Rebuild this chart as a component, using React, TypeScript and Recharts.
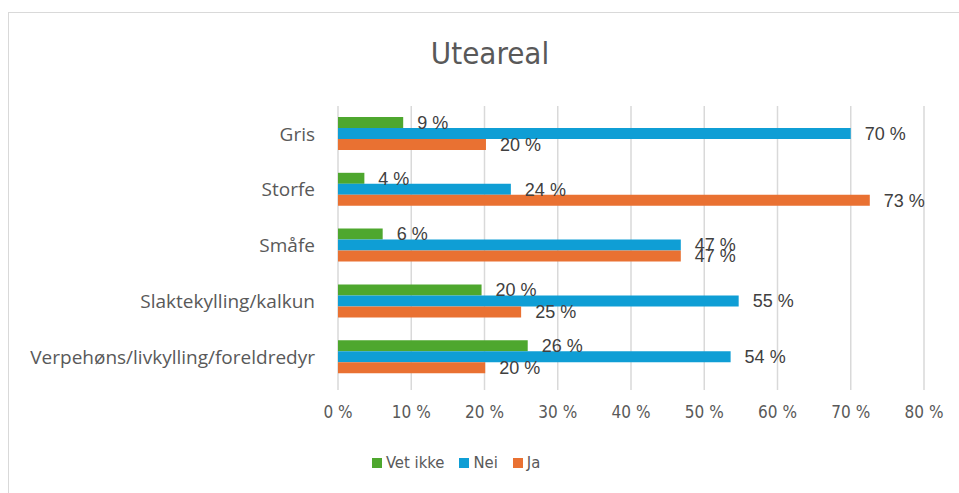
import { BarChart, Bar, XAxis, YAxis, CartesianGrid, LabelList } from "recharts";

const categories = [
  "Gris",
  "Storfe",
  "Småfe",
  "Slaktekylling/kalkun",
  "Verpehøns/livkylling/foreldredyr",
];
const vetIkke = [8.9, 3.6, 6.1, 19.6, 25.9];
const nei = [70.0, 23.6, 46.8, 54.7, 53.6];
const ja = [20.2, 72.6, 46.8, 25.0, 20.1];
const xTicks = [0, 10, 20, 30, 40, 50, 60, 70, 80];

const series = [
  { key: "vetIkke", name: "Vet ikke", color: "#4ea72e" },
  { key: "nei", name: "Nei", color: "#0f9ed5" },
  { key: "ja", name: "Ja", color: "#e97132" },
];

const data = categories.map((c, i) => ({
  category: c,
  vetIkke: vetIkke[i],
  nei: nei[i],
  ja: ja[i],
}));

const narrow = "'Liberation Sans Narrow', 'DejaVu Sans Condensed', sans-serif";
const pct = (v: unknown) => `${Math.round(Number(v))} %`;

function LegendBox() {
  return (
    <div
      style={{
        position: "absolute",
        left: 372,
        top: 453,
        display: "flex",
        gap: 15,
        fontFamily: narrow,
        fontSize: 16.5,
        color: "#595959",
      }}
    >
      {series.map((s) => (
        <div key={s.key} style={{ display: "flex", alignItems: "center", gap: 4 }}>
          <div style={{ width: 10, height: 10, background: s.color }} />
          <span>{s.name}</span>
        </div>
      ))}
    </div>
  );
}

export default function App() {
  return (
    <div
      style={{
        position: "absolute",
        left: 0,
        top: 0,
        width: 959,
        height: 493,
        background: "#fff",
        overflow: "hidden",
      }}
    >
      <div
        style={{
          position: "absolute",
          left: 8,
          top: 12,
          width: 980,
          height: 520,
          border: "1px solid #d9d9d9",
        }}
      />
      <div
        style={{
          position: "absolute",
          left: 0,
          top: 35,
          width: 980,
          textAlign: "center",
          fontFamily: narrow,
          fontSize: 31,
          color: "#595959",
        }}
      >
        Uteareal
      </div>
      <div style={{ position: "absolute", left: 0, top: 0 }}>
        <BarChart
          width={959}
          height={493}
          data={data}
          layout="vertical"
          margin={{ top: 106, right: 35, bottom: 78, left: 10 }}
          barGap={0}
          barSize={11}
        >
          <CartesianGrid horizontal={false} stroke="#d9d9d9" strokeWidth={1.5} />
          <XAxis
            type="number"
            domain={[0, 80]}
            ticks={xTicks}
            tickFormatter={(v: number) => `${v} %`}
            axisLine={false}
            tickLine={{ stroke: "#d9d9d9", strokeWidth: 1.5 }}
            tickSize={5}
            tickMargin={16}
            tick={{ fontFamily: narrow, fontSize: 17, fill: "#595959" }}
            interval={0}
          />
          <YAxis
            type="category"
            dataKey="category"
            width={328}
            axisLine={false}
            tickLine={false}
            tickSize={0}
            tickMargin={23}
            tick={{ fontFamily: "'Open Sans', sans-serif", fontSize: 19, fill: "#595959" }}
            interval={0}
          />
          {series.map((s) => (
            <Bar
              key={s.key}
              dataKey={s.key}
              name={s.name}
              fill={s.color}
              isAnimationActive={false}
            >
              <LabelList
                dataKey={s.key}
                position="right"
                offset={14}
                formatter={pct}
                style={{ fontFamily: "'Liberation Sans', Arial, sans-serif", fontSize: 18, fill: "#404040" }}
              />
            </Bar>
          ))}
        </BarChart>
      </div>
      <LegendBox />
    </div>
  );
}
